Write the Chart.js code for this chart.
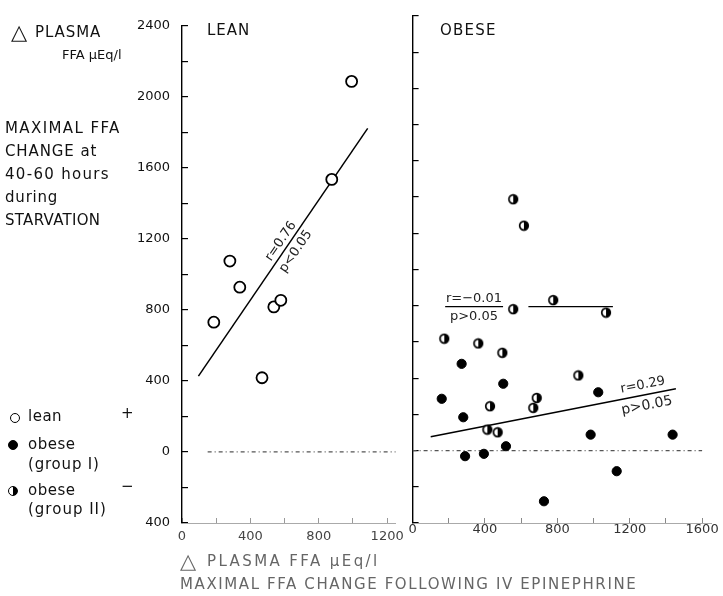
<!DOCTYPE html>
<html>
<head>
<meta charset="utf-8">
<script src="https://cdn.jsdelivr.net/npm/chart.js@4.4.0/dist/chart.umd.min.js"></script>
<style>
  body { margin: 0; background: #fff; width: 723px; height: 596px; position: relative; overflow: hidden;
         font-family: "DejaVu Sans", sans-serif; color: #111; }
  .t { position: absolute; white-space: nowrap; font-size: 15px; line-height: 1; letter-spacing: 1px; }
  .mk { position: absolute; width: 10px; height: 10px; border-radius: 50%; border: 1.6px solid #000; box-sizing: border-box; }
  #leanBox { position: absolute; left: 0; top: 0; width: 415px; height: 596px; }
  #obeseBox { position: absolute; left: 400px; top: 0; width: 323px; height: 596px; }
</style>
</head>
<body>
<div id="leanBox"><canvas id="leanChart"></canvas></div>
<div id="obeseBox"><canvas id="obeseChart"></canvas></div>

<!-- texto del eje y y leyenda -->
<div class="t" style="left:11px;top:22px;font-size:21px;letter-spacing:0">△</div>
<div class="t" style="left:35px;top:25px;letter-spacing:0.9px">PLASMA</div>
<div class="t" style="left:62px;top:48px;font-size:13px;letter-spacing:0">FFA μEq/l</div>
<div class="t" style="left:5px;top:121px;letter-spacing:1.4px">MAXIMAL FFA</div>
<div class="t" style="left:5px;top:144px;letter-spacing:0.9px">CHANGE at</div>
<div class="t" style="left:5px;top:167px;letter-spacing:1.3px">40-60 hours</div>
<div class="t" style="left:5px;top:190px;letter-spacing:0.8px">during</div>
<div class="t" style="left:5px;top:213px;letter-spacing:0.3px">STARVATION</div>

<div class="mk" style="left:10px;top:413px;background:#fff"></div>
<div class="t" style="left:28px;top:409px;letter-spacing:0.5px">lean</div>
<div class="t" style="left:121px;top:406px">+</div>
<div class="mk" style="left:8px;top:440px;background:#000"></div>
<div class="t" style="left:28px;top:437px;letter-spacing:0.5px">obese</div>
<div class="t" style="left:28px;top:457px;letter-spacing:0.8px">(group I)</div>
<div class="mk" style="left:8px;top:486px;background:linear-gradient(to right,#fff 50%,#000 50%)"></div>
<div class="t" style="left:28px;top:483px;letter-spacing:0.5px">obese</div>
<div class="t" style="left:28px;top:502px">(group II)</div>
<div class="t" style="left:121px;top:479px">−</div>

<div class="t" style="left:207px;top:23px">LEAN</div>
<div class="t" style="left:440px;top:23px;letter-spacing:1.2px">OBESE</div>

<div class="t" style="left:180px;top:551px;font-size:21px;letter-spacing:0;color:#666">△</div>
<div class="t" style="left:207px;top:554px;letter-spacing:2.4px;color:#666">PLASMA FFA μEq/l</div>
<div class="t" style="left:180px;top:577px;letter-spacing:1.6px;color:#666">MAXIMAL FFA CHANGE FOLLOWING IV EPINEPHRINE</div>

<script>
// sujetos delgados
const leanX = [186, 280, 338, 468, 537, 578, 876, 992];
const leanY = [731, 1075, 928, 418, 817, 854, 1535, 2087];

// obesos grupo I (círculo relleno)
const obese1X = [271, 501, 1026, 161, 280, 984, 1437, 516, 290, 394, 1128, 726];
const obese1Y = [479, 369, 322, 286, 184, 88, 88, 24, -31, -18, -114, -280];

// obesos grupo II (medio relleno)
const obese2X = [556, 615, 777, 556, 1069, 175, 363, 496, 916, 686, 667, 428, 413, 470];
const obese2Y = [1388, 1242, 831, 781, 762, 618, 592, 540, 415, 291, 236, 245, 116, 101];

// rectas de regresión
const leanFitX = [96, 1086];
const leanFitY = [427, 1822];
const grp2FitX = [180, 500, 560, 640, 1107];
const grp2FitY = [795, 795, null, 795, 795];
const grp1FitX = [100, 1455];
const grp1FitY = [76, 341];

const yTicksMin = -400, yTicksMax = 2400;

const pts = (xs, ys) => xs.map((x, i) => ({ x: x, y: ys[i] }));

Chart.defaults.font.family = '"DejaVu Sans", sans-serif';
Chart.defaults.color = '#111';
Chart.defaults.animation = false;

// marcador medio relleno
function halfDot(r) {
    const c = document.createElement('canvas');
    const s = Math.ceil(r * 2 + 3);
    c.width = s; c.height = s;
    const ctx = c.getContext('2d');
    const m = s / 2;
    ctx.beginPath(); ctx.arc(m, m, r, 0, Math.PI * 2); ctx.fillStyle = '#fff'; ctx.fill();
    ctx.beginPath(); ctx.arc(m, m, r, -Math.PI / 2, Math.PI / 2); ctx.closePath(); ctx.fillStyle = '#000'; ctx.fill();
    ctx.beginPath(); ctx.arc(m, m, r, 0, Math.PI * 2); ctx.lineWidth = 1.7; ctx.strokeStyle = '#000'; ctx.stroke();
    return c;
}

// texto r / p a lo largo de las rectas
const fitText = {
    id: 'fitText',
    afterDatasetsDraw(chart, args, opts) {
        const { ctx, scales } = chart;
        (opts.items || []).forEach(it => {
            const px = scales.x.getPixelForValue(it.at[0]);
            const py = scales.y.getPixelForValue(it.at[1]);
            const x1 = scales.x.getPixelForValue(it.dir[0]), y1 = scales.y.getPixelForValue(it.dir[1]);
            const x2 = scales.x.getPixelForValue(it.dir[2]), y2 = scales.y.getPixelForValue(it.dir[3]);
            const ang = Math.atan2(y2 - y1, x2 - x1);
            ctx.save();
            ctx.translate(px, py);
            ctx.rotate(ang);
            ctx.fillStyle = '#222';
            ctx.textAlign = 'center';
            ctx.textBaseline = 'middle';
            ctx.font = it.size[0] + 'px "DejaVu Sans", sans-serif';
            ctx.fillText(it.above, 0, -it.gap[0]);
            ctx.font = it.size[1] + 'px "DejaVu Sans", sans-serif';
            ctx.fillText(it.below, 0, it.gap[1]);
            ctx.restore();
        });
    }
};

const yCommon = {
    type: 'linear', min: yTicksMin, max: yTicksMax,
    border: { color: '#000', width: 1.4 },
    grid: { drawOnChartArea: false, tickLength: -6, color: '#000', lineWidth: 1.2 },
};

new Chart(document.getElementById('leanChart'), {
    type: 'scatter',
    data: {
        datasets: [
            { data: pts(leanX, leanY), pointStyle: 'circle', pointRadius: 5.5, borderWidth: 1.8,
              borderColor: '#000', backgroundColor: '#fff' },
            { type: 'line', data: pts(leanFitX, leanFitY), borderColor: '#000', borderWidth: 1.5, pointRadius: 0 },
            { type: 'line', data: pts([150, 1250], [0, 0]), borderColor: '#555', borderWidth: 1.3,
              borderDash: [4, 3, 1, 3], pointRadius: 0, order: 5 }
        ]
    },
    options: {
        responsive: true, maintainAspectRatio: false,
        layout: { padding: { top: 16, left: 0, right: 6.7, bottom: 0 } },
        plugins: {
            legend: { display: false }, tooltip: { enabled: false },
            fitText: { items: [
                { at: [617, 1161], dir: [96, 427, 1086, 1822], above: 'r=0.76', below: 'p<0.05', gap: [8, 10], size: [13, 13] }
            ] }
        },
        scales: {
            x: {
                type: 'linear', min: 0, max: 1250,
                border: { color: '#aaa', width: 1, dash: [5, 4] },
                grid: { drawOnChartArea: false, tickLength: -5, color: '#999' },
                ticks: { stepSize: 200, includeBounds: false, padding: 11, maxRotation: 0, autoSkip: false,
                         color: '#444', font: { size: 13 },
                         callback: v => (v % 400 === 0 ? v : '') },
                afterFit: s => { s.height = 73; }
            },
            y: Object.assign({}, yCommon, {
                ticks: { stepSize: 200, padding: 18, autoSkip: false, font: { size: 13 },
                         callback: v => (v % 400 === 0 ? Math.abs(v) : '') },
                afterFit: s => { s.width = 182; }
            })
        }
    },
    plugins: [fitText]
});

new Chart(document.getElementById('obeseChart'), {
    type: 'scatter',
    data: {
        datasets: [
            { data: pts(obese1X, obese1Y), pointStyle: 'circle', pointRadius: 4.6, borderWidth: 1,
              borderColor: '#000', backgroundColor: '#000' },
            { data: pts(obese2X, obese2Y), pointStyle: halfDot(4.3) },
            { type: 'line', data: pts(grp2FitX, grp2FitY), borderColor: '#000', borderWidth: 1.4,
              pointRadius: 0, spanGaps: false },
            { type: 'line', data: pts(grp1FitX, grp1FitY), borderColor: '#000', borderWidth: 1.5, pointRadius: 0 },
            { type: 'line', data: pts([0, 1600], [0, 0]), borderColor: '#555', borderWidth: 1.3,
              borderDash: [4, 3, 1, 3], pointRadius: 0, order: 5 }
        ]
    },
    options: {
        responsive: true, maintainAspectRatio: false,
        layout: { padding: { top: 16, left: 0, right: 11.6, bottom: 0 } },
        plugins: {
            legend: { display: false }, tooltip: { enabled: false },
            fitText: { items: [
                { at: [339, 795], dir: [0, 0, 1, 0], above: 'r=−0.01', below: 'p>0.05', gap: [8, 10], size: [13, 13] },
                { at: [1283, 307], dir: [100, 76, 1455, 341], above: 'r=0.29', below: 'p>0.05', gap: [10, 11], size: [13, 14] }
            ] }
        },
        scales: {
            x: {
                type: 'linear', min: 0, max: 1650,
                border: { color: '#aaa', width: 1, dash: [5, 4] },
                grid: { drawOnChartArea: false, tickLength: -5, color: '#888' },
                ticks: { stepSize: 200, includeBounds: false, padding: 4, maxRotation: 0, autoSkip: false,
                         color: '#333', font: { size: 13 },
                         callback: v => (v % 400 === 0 ? v : '') },
                afterFit: s => { s.height = 73; }
            },
            y: Object.assign({}, yCommon, {
                ticks: { stepSize: 200, autoSkip: false, callback: () => '' },
                afterFit: s => { s.width = 12.6; }
            })
        }
    },
    plugins: [fitText]
});
</script>
</body>
</html>
